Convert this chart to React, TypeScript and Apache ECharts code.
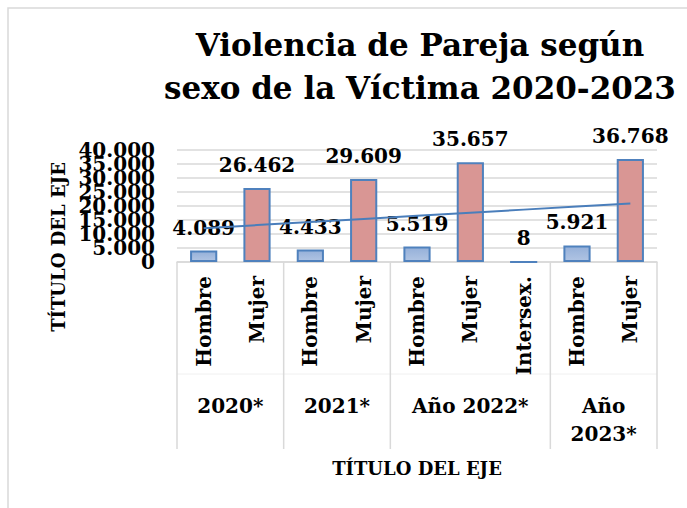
import React, { useEffect, useRef } from 'react';
import * as echarts from 'echarts';

const categories = ['Hombre', 'Mujer', 'Hombre', 'Mujer', 'Hombre', 'Mujer', 'Intersex.', 'Hombre', 'Mujer'];
const values = [4089, 26462, 4433, 29609, 5519, 35657, 8, 5921, 36768];
const yTicks = [0, 5000, 10000, 15000, 20000, 25000, 30000, 35000, 40000];
const groupLabels = ['2020*', '2021*', 'Año 2022*', 'Año\n2023*'];
const groupSizes = [2, 2, 3, 2];
const titleText = 'Violencia de Pareja según\nsexo de la Víctima 2020-2023';
const axisTitle = 'TÍTULO DEL EJE';

const FONT = 'DejaVu Serif';
const fmt = (v: number) => String(v).replace(/\B(?=(\d{3})+(?!\d))/g, '.');

export default function App() {
  const ref = useRef<HTMLDivElement>(null);
  useEffect(() => {
    document.body.style.margin = '0';
    const chart = echarts.init(ref.current!, null, { renderer: 'svg' });

    // linear trendline (least squares) of the bar values, as Excel draws it
    const n = values.length;
    const mx = (n - 1) / 2;
    const my = values.reduce((a, b) => a + b, 0) / n;
    let sxy = 0, sxx = 0;
    values.forEach((v, i) => { sxy += (i - mx) * (v - my); sxx += (i - mx) * (i - mx); });
    const slope = sxy / sxx;
    const trend = values.map((_, i) => my + slope * (i - mx));

    const blueFill = new echarts.graphic.LinearGradient(0, 0, 0, 1, [
      { offset: 0, color: '#95B0D9' },
      { offset: 1, color: '#B0C4E3' },
    ]);

    const gridLeft = 177;

    chart.setOption({
      animation: false,
      grid: { left: gridLeft, right: 30, top: 150, bottom: 246, containLabel: false },
      xAxis: {
        type: 'category',
        data: categories,
        axisLine: { show: true, lineStyle: { color: '#D9D9D9', width: 1.5 } },
        axisTick: { show: false },
        axisLabel: {
          interval: 0,
          rotate: 90,
          margin: 14,
          color: '#000',
          fontFamily: FONT,
          fontWeight: 'bold',
          fontSize: 20,
        },
      },
      yAxis: {
        type: 'value',
        min: yTicks[0],
        max: yTicks[yTicks.length - 1],
        interval: yTicks[1] - yTicks[0],
        axisLine: { show: false },
        axisTick: { show: false },
        splitLine: { lineStyle: { color: '#D9D9D9', width: 1.5 } },
        // labels are drawn below as graphic texts so that the overlapping ones are all kept
        axisLabel: { show: false },
      },
      series: [
        {
          type: 'bar',
          barWidth: '51%',
          data: values.map((v, i) => ({
            value: v,
            itemStyle: {
              color: categories[i] === 'Mujer' ? '#D99694' : blueFill,
              borderColor: '#4F81BD',
              borderWidth: 2,
            },
          })),
          label: {
            show: true,
            position: 'top',
            distance: 13,
            color: '#000',
            fontFamily: FONT,
            fontWeight: 'bold',
            fontSize: 20,
            formatter: (p: any) => fmt(p.value),
          },
          z: 2,
        },
        {
          type: 'line',
          data: trend,
          symbol: 'none',
          lineStyle: { color: '#4A7EBB', width: 2 },
          silent: true,
          z: 3,
        },
      ],
    });

    const px = (i: number) => chart.convertToPixel({ xAxisIndex: 0 }, i) as unknown as number;
    const py = (v: number) => chart.convertToPixel({ yAxisIndex: 0 }, v) as unknown as number;
    const yBase = py(0);
    const c0 = px(0);
    const w = px(1) - c0;
    const edge = (k: number) => c0 - w / 2 + k * w;
    const bottomY = 449;

    const graphics: any[] = [
      {
        type: 'rect',
        shape: { x: 8, y: 8, width: 720, height: 540 },
        style: { fill: 'none', stroke: '#D9D9D9', lineWidth: 1.5 },
        z: 0,
        silent: true,
      },
      {
        type: 'text',
        x: 420,
        y: 23,
        style: {
          text: titleText,
          fontFamily: FONT,
          fontWeight: 'bold',
          fontSize: 31,
          lineHeight: 43,
          fill: '#000',
          textAlign: 'center',
          textVerticalAlign: 'top',
        },
      },
      {
        type: 'text',
        x: 58,
        y: 247,
        rotation: Math.PI / 2,
        style: {
          text: axisTitle,
          fontFamily: FONT,
          fontWeight: 'bold',
          fontSize: 18,
          fill: '#000',
          textAlign: 'center',
          textVerticalAlign: 'middle',
        },
      },
      {
        type: 'text',
        x: 417,
        y: 468,
        style: {
          text: axisTitle,
          fontFamily: FONT,
          fontWeight: 'bold',
          fontSize: 18,
          fill: '#000',
          textAlign: 'center',
          textVerticalAlign: 'middle',
        },
      },
      {
        type: 'line',
        shape: { x1: edge(0), y1: 374, x2: edge(n), y2: 374 },
        style: { stroke: '#F0F0F0', lineWidth: 1 },
        silent: true,
      },
    ];

    yTicks.forEach((t) => {
      graphics.push({
        type: 'text',
        x: gridLeft - 22,
        y: py(t),
        style: {
          text: fmt(t),
          fontFamily: FONT,
          fontWeight: 'bold',
          fontSize: 20,
          fill: '#000',
          textAlign: 'right',
          textVerticalAlign: 'middle',
        },
      });
    });

    let k = 0;
    const bounds = [0];
    groupSizes.forEach((s) => { k += s; bounds.push(k); });
    bounds.forEach((b) => {
      graphics.push({
        type: 'line',
        shape: { x1: edge(b), y1: yBase, x2: edge(b), y2: bottomY },
        style: { stroke: '#D9D9D9', lineWidth: 1.5 },
        silent: true,
      });
    });
    groupLabels.forEach((g, gi) => {
      const cx = (edge(bounds[gi]) + edge(bounds[gi + 1])) / 2;
      graphics.push({
        type: 'text',
        x: cx,
        y: 392,
        style: {
          text: g,
          fontFamily: FONT,
          fontWeight: 'bold',
          fontSize: 20,
          lineHeight: 28,
          fill: '#000',
          textAlign: 'center',
          textVerticalAlign: 'top',
        },
      });
    });

    chart.setOption({ graphic: graphics });

    return () => chart.dispose();
  }, []);
  return <div ref={ref} style={{ width: 687, height: 508 }} />;
}
